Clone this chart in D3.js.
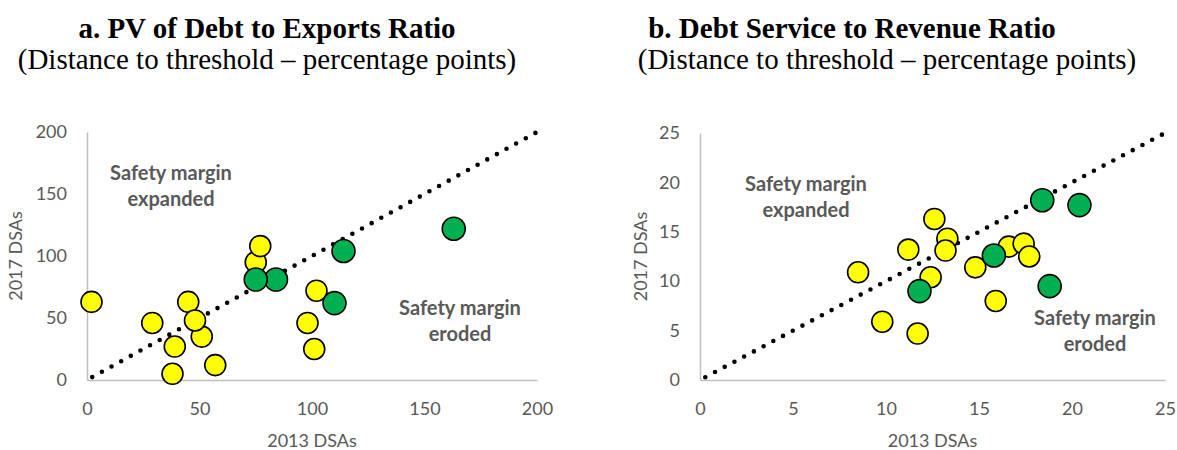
<!DOCTYPE html>
<html>
<head>
<meta charset="utf-8">
<script src="https://cdn.jsdelivr.net/npm/d3@7"></script>
<style>
  html, body { margin: 0; padding: 0; background: #fff; }
  svg { display: block; }
</style>
</head>
<body>
<svg id="chart" width="1177" height="450"></svg>
<script>
// Panel a: PV of debt to exports ratio, distance to threshold (pp)
const aX2013 = [2, 29, 39, 38, 57, 45, 51, 48, 75, 77, 102, 98, 101, 84, 75, 114, 110, 163];
const aY2017 = [63, 46, 27, 5, 12, 63, 35, 48, 95, 108, 72, 46, 25, 81, 81, 104, 62, 122];
const aGroup = ["y", "y", "y", "y", "y", "y", "y", "y", "y", "y", "y", "y", "y", "g", "g", "g", "g", "g"];
const aTicks = [0, 50, 100, 150, 200];

// Panel b: debt service to revenue ratio, distance to threshold (pp)
const bX2013 = [8.5, 9.8, 11.2, 11.7, 12.4, 12.6, 13.3, 13.2, 14.8, 15.9, 16.6, 17.4, 17.7, 11.8, 15.8, 18.4, 20.4, 18.8];
const bY2017 = [10.9, 5.9, 13.2, 4.7, 10.4, 16.3, 14.3, 13.1, 11.4, 8.0, 13.5, 13.8, 12.5, 9.0, 12.6, 18.2, 17.7, 9.5];
const bGroup = ["y", "y", "y", "y", "y", "y", "y", "y", "y", "y", "y", "y", "y", "g", "g", "g", "g", "g"];
const bTicks = [0, 5, 10, 15, 20, 25];

const fillFor = { y: "#FFFF00", g: "#00B050" };
const radiusFor = { y: 10.5, g: 11.5 };
const grey = "#595959";
const sansFont = "Lato, 'Open Sans', sans-serif";
const serifFont = "'Liberation Serif', 'Times New Roman', serif";

const svg = d3.select("#chart");

function drawPanel(cfg) {
  const x = d3.scaleLinear().domain(cfg.domain).range(cfg.xRange);
  const y = d3.scaleLinear().domain(cfg.domain).range(cfg.yRange);
  const g = svg.append("g");

  // Titles
  g.append("text")
    .attr("x", cfg.titleX).attr("y", 38)
    .attr("text-anchor", "middle")
    .style("font-family", serifFont).style("font-weight", "bold")
    .style("font-size", "29px").style("fill", "#000")
    .text(cfg.title);
  g.append("text")
    .attr("x", cfg.subtitleX).attr("y", 69)
    .attr("text-anchor", "middle")
    .style("font-family", serifFont)
    .style("font-size", "29px").style("fill", "#000")
    .text("(Distance to threshold \u2013 percentage points)");

  // Axes
  const xAxis = d3.axisBottom(x).tickValues(cfg.ticks).tickSize(0).tickSizeOuter(0).tickPadding(22);
  const yAxis = d3.axisLeft(y).tickValues(cfg.ticks).tickSize(0).tickSizeOuter(0).tickPadding(20);

  const gx = g.append("g").attr("transform", `translate(0,${cfg.yRange[0]})`).call(xAxis);
  const gy = g.append("g").attr("transform", `translate(${cfg.xRange[0]},0)`).call(yAxis);
  [gx, gy].forEach(a => {
    a.select(".domain").attr("stroke", "#BFBFBF").attr("stroke-width", 1.5);
    a.selectAll("text")
      .style("font-family", sansFont).style("font-size", "18px").style("fill", grey);
  });

  // Axis titles
  const midX = (cfg.xRange[0] + cfg.xRange[1]) / 2;
  const midY = (cfg.yRange[0] + cfg.yRange[1]) / 2;
  g.append("text")
    .attr("x", midX).attr("y", 447)
    .attr("text-anchor", "middle")
    .style("font-family", sansFont).style("font-size", "18px").style("fill", grey)
    .text("2013 DSAs");
  g.append("text")
    .attr("transform", `translate(${cfg.yTitleX},${midY}) rotate(-90)`)
    .attr("text-anchor", "middle").attr("dy", "0.35em")
    .style("font-family", sansFont).style("font-size", "18px").style("fill", grey)
    .text("2017 DSAs");

  // 45-degree reference line (no change in distance to threshold)
  g.append("line")
    .attr("x1", x(cfg.domain[0])).attr("y1", y(cfg.domain[0]))
    .attr("x2", x(cfg.domain[1])).attr("y2", y(cfg.domain[1]))
    .attr("stroke", "#000").attr("stroke-width", 4.6)
    .attr("stroke-linecap", "round")
    .attr("stroke-dasharray", "0 11")
    .attr("stroke-dashoffset", -6);

  // Annotations
  cfg.notes.forEach(n => {
    const t = g.append("text")
      .attr("text-anchor", "middle")
      .style("font-family", sansFont).style("font-weight", "bold")
      .style("font-size", "20px").style("fill", grey);
    n.lines.forEach((line, i) => {
      t.append("tspan").attr("x", n.x).attr("y", n.y + i * 25.5).text(line);
    });
  });

  // Points
  const pts = cfg.xs.map((v, i) => ({ x: v, y: cfg.ys[i], grp: cfg.groups[i] }));
  g.append("g").selectAll("circle")
    .data(pts)
    .join("circle")
    .attr("cx", d => x(d.x))
    .attr("cy", d => y(d.y))
    .attr("r", d => radiusFor[d.grp])
    .attr("fill", d => fillFor[d.grp])
    .attr("stroke", "#000")
    .attr("stroke-width", 1.6);
}

drawPanel({
  title: "a. PV of Debt to Exports Ratio",
  titleX: 267,
  subtitleX: 267,
  domain: [0, 200],
  ticks: aTicks,
  xRange: [87, 537],
  yRange: [380, 132],
  yTitleX: 16,
  xs: aX2013, ys: aY2017, groups: aGroup,
  notes: [
    { x: 171, y: 180, lines: ["Safety margin", "expanded"] },
    { x: 460, y: 315, lines: ["Safety margin", "eroded"] }
  ]
});

drawPanel({
  title: "b. Debt Service to Revenue Ratio",
  titleX: 852,
  subtitleX: 887,
  domain: [0, 25],
  ticks: bTicks,
  xRange: [700, 1165],
  yRange: [380, 133],
  yTitleX: 641,
  xs: bX2013, ys: bY2017, groups: bGroup,
  notes: [
    { x: 806, y: 191, lines: ["Safety margin", "expanded"] },
    { x: 1095, y: 325, lines: ["Safety margin", "eroded"] }
  ]
});
</script>
</body>
</html>
